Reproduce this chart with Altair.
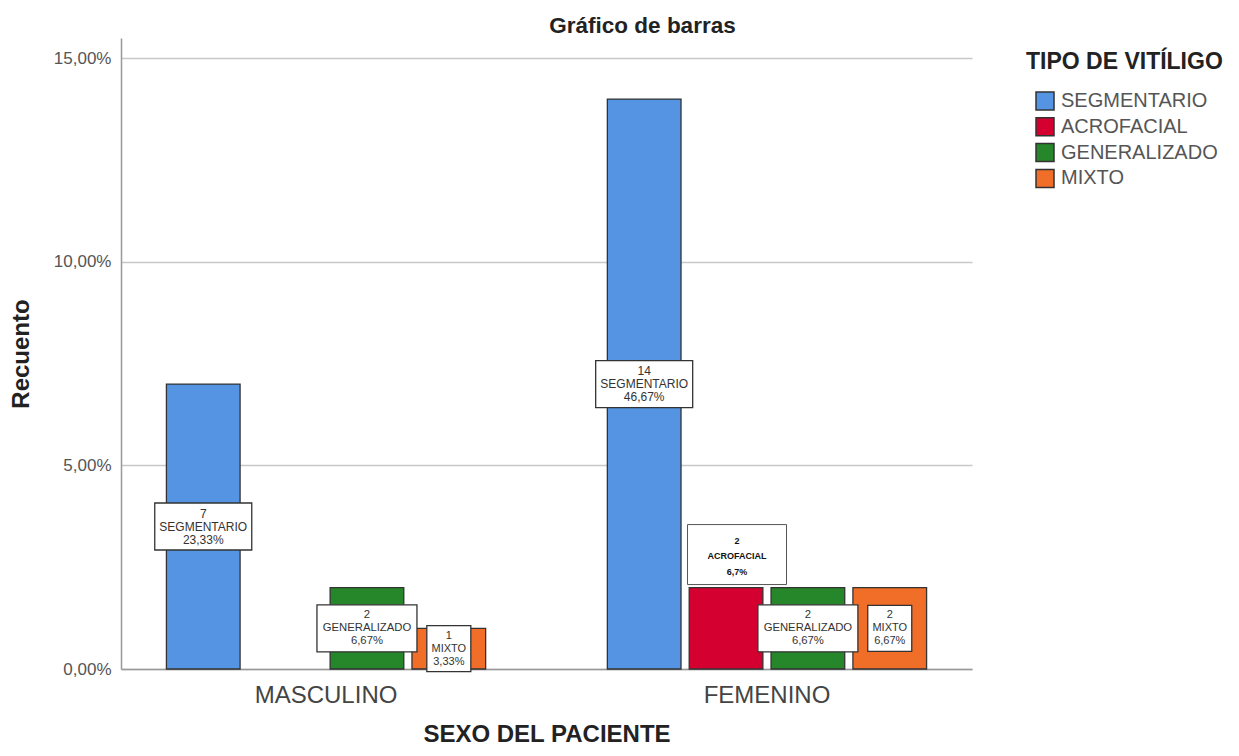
import altair as alt
import pandas as pd

sexos = ["MASCULINO", "FEMENINO"]
tipos = ["SEGMENTARIO", "ACROFACIAL", "GENERALIZADO", "MIXTO"]
colores = ["#5494E2", "#D40030", "#26872A", "#F06E28"]

sexo = ["MASCULINO", "MASCULINO", "MASCULINO", "MASCULINO",
        "FEMENINO", "FEMENINO", "FEMENINO", "FEMENINO"]
tipo = ["SEGMENTARIO", "ACROFACIAL", "GENERALIZADO", "MIXTO",
        "SEGMENTARIO", "ACROFACIAL", "GENERALIZADO", "MIXTO"]
recuento = [7, 0, 2, 1, 14, 2, 2, 2]
porcentaje = ["23,33%", "0,00%", "6,67%", "3,33%", "46,67%", "6,7%", "6,67%", "6,67%"]

df = pd.DataFrame({"sexo": sexo, "tipo": tipo, "recuento": recuento, "pct": porcentaje})

FONT = "Liberation Sans"

x_enc = alt.X(
    "sexo:N", sort=sexos,
    scale=alt.Scale(domain=sexos, paddingInner=0.276, paddingOuter=0.103),
    axis=alt.Axis(
        title="SEXO DEL PACIENTE", labelAngle=0, labelFontSize=24, labelColor="#444",
        labelFont=FONT, labelPadding=14, ticks=False, domainColor="#999",
        domainWidth=1.5, titleFontSize=24, titleFont=FONT, titleFontWeight="bold",
        titleColor="#222", titlePadding=15,
    ),
)
xoff_enc = alt.XOffset("tipo:N", sort=tipos,
                       scale=alt.Scale(domain=tipos, paddingInner=0.1, paddingOuter=0))
y_scale = alt.Scale(domain=[0, 15.5], nice=False)

base = alt.Chart(df).transform_filter("datum.recuento > 0").transform_calculate(
    mid="datum.recuento / 2",
    label="datum.recuento + '\\n' + datum.tipo + '\\n' + datum.pct",
)

bars = base.mark_bar(stroke="#333", strokeWidth=1.3).encode(
    x=x_enc,
    xOffset=xoff_enc,
    y=alt.Y(
        "recuento:Q", scale=y_scale,
        axis=alt.Axis(
            title="Recuento", values=[0, 5, 10, 15],
            labelExpr="replace(format(datum.value, '.2f'), '.', ',') + '%'",
            labelFontSize=17, labelColor="#555", labelFont=FONT, labelPadding=10,
            ticks=False, domainColor="#999", domainWidth=1.5,
            grid=True, gridColor="#c8c8c8", gridWidth=1.5,
            titleFontSize=24, titleFont=FONT, titleFontWeight="bold",
            titleColor="#222", titlePadding=20,
        ),
    ),
    color=alt.Color(
        "tipo:N", sort=tipos,
        scale=alt.Scale(domain=tipos, range=colores),
        legend=alt.Legend(
            title="TIPO DE VITÍLIGO", orient="none", legendX=905, legendY=13,
            titleFontSize=23, titleFont=FONT, titleFontWeight="bold", titleColor="#222",
            titlePadding=17, titleLimit=400, symbolType="square", symbolSize=324,
            symbolStrokeColor="#333", symbolStrokeWidth=1.5, symbolOffset=9,
            labelFontSize=20, labelFont=FONT, labelColor="#555", labelOffset=6,
            labelLimit=300, rowPadding=1.8, symbolOpacity=1,
        ),
    ),
)

def box_layer(name, w, h, fs):
    sub = base.transform_filter(alt.datum.tipo == name)
    rect = sub.mark_rect(width=w, height=h, fill="white", stroke="#333", strokeWidth=1.3).encode(
        x=x_enc, xOffset=xoff_enc, y=alt.Y("mid:Q", scale=y_scale)
    )
    txt = sub.mark_text(fontSize=fs, lineHeight=13, lineBreak="\n", color="#333",
                        font=FONT, baseline="middle", dy=-13).encode(
        x=x_enc, xOffset=xoff_enc, y=alt.Y("mid:Q", scale=y_scale), text="label:N"
    )
    return [rect, txt]

layers = [bars]
layers += box_layer("SEGMENTARIO", 97, 47, 12)
layers += box_layer("GENERALIZADO", 100, 47, 11.3)
layers += box_layer("MIXTO", 44, 46, 11)

# box of the ACROFACIAL label: a 99x60 px rectangle drawn as a custom symbol,
# shifted 11 px right of the bar centre and sitting just above the bar top
BOX_PATH = "M-0.778,-1.273L1.222,-1.273L1.222,-0.061L-0.778,-0.061Z"
acro = base.transform_filter(alt.datum.tipo == "ACROFACIAL")
acro_box = acro.mark_point(shape=BOX_PATH, size=9801, filled=True, fill="white",
                           stroke="#555", strokeWidth=1, opacity=1).encode(
    x=x_enc, xOffset=xoff_enc, y=alt.Y("recuento:Q", scale=y_scale)
)
acro_txt = acro.mark_text(fontSize=9, fontWeight="bold", lineHeight=15.5, lineBreak="\n",
                          color="#111", font=FONT, baseline="middle", dx=11, dy=-47).encode(
    x=x_enc, xOffset=xoff_enc, y=alt.Y("recuento:Q", scale=y_scale), text="label:N"
)
layers += [acro_box, acro_txt]

chart = alt.layer(*layers).properties(
    width=851, height=631,
    background="white",
    title=alt.TitleParams(
        "Gráfico de barras", anchor="middle", frame="group", dx=96, offset=1,
        fontSize=22.5, font=FONT, fontWeight="bold", color="#222",
    ),
    autosize=alt.AutoSizeParams(type="none"),
    padding={"left": 113, "top": 30, "right": 259, "bottom": 78},
).configure_view(stroke=None)

chart.save("out.html", embed_options={"renderer": "svg", "actions": False})
